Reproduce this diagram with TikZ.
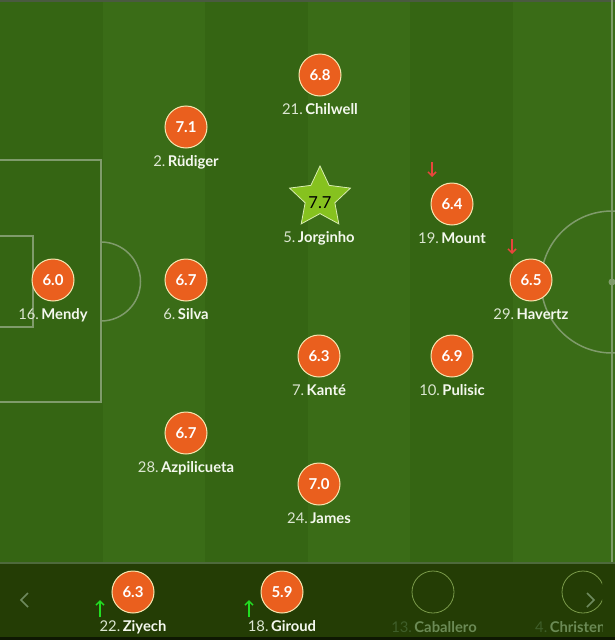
\documentclass[tikz,border=0pt]{standalone}
\usepackage{fontspec}
\setmainfont{Lato}
\usetikzlibrary{arrows.meta,shapes.geometric}
\definecolor{stripeA}{HTML}{356513}
\definecolor{stripeB}{HTML}{3A6C17}
\definecolor{topline}{HTML}{4A5A40}
\definecolor{pline}{HTML}{7F9B6B}
\definecolor{benchbg}{HTML}{243D05}
\definecolor{benchline}{HTML}{4E6A3C}
\definecolor{rfill}{HTML}{EA5F1E}
\definecolor{rborder}{HTML}{F6E7B0}
\definecolor{starfill}{HTML}{86C21F}
\definecolor{starborder}{HTML}{D8ECB0}
\definecolor{numcol}{HTML}{DCE6D2}
\definecolor{namecol}{HTML}{F4F8EE}
\definecolor{downred}{HTML}{E8453C}
\definecolor{upgreen}{HTML}{22DD22}
\definecolor{dimnum}{HTML}{3F5E2A}
\definecolor{dimname}{HTML}{6B8A55}
\definecolor{dimring}{HTML}{7A9A4A}
\definecolor{chev}{HTML}{6E8A5E}
\tikzset{
  rating/.style={circle, fill=rfill, draw=rborder, line width=1pt, minimum size=42pt, inner sep=0pt,
    text=white, font=\fontsize{15}{17}\selectfont\bfseries},
  emptyring/.style={circle, draw=dimring, line width=0.8pt, minimum size=42pt, inner sep=0pt},
  lbl/.style={anchor=base, inner sep=0pt, font=\fontsize{14.8}{17}\selectfont},
  pitchline/.style={draw=pline, line width=1.5pt},
  downarr/.style={draw=downred, line width=1.5pt, -{Straight Barb[length=4pt,width=8pt]}},
  uparr/.style={draw=upgreen, line width=1.5pt, -{Straight Barb[length=4pt,width=8pt]}},
  chevron/.style={draw=chev, line width=1.5pt}
}
\newcommand\plyr[6]{%
  \node[rating] (#1) at (#2,#3) {#4};
  \node[lbl] (#1-l) at (#2,#3+39) {\textcolor{numcol}{#5.}\hspace{2.5pt}\textcolor{namecol}{\bfseries #6}};
}
\begin{document}
\begin{tikzpicture}[x=1pt,y=-1pt]
\useasboundingbox (0,0) rectangle (615,640);
% stripes
\foreach \i in {0,2,4} \fill[stripeA] (\i*102.5,0) rectangle (\i*102.5+102.5,563);
\foreach \i in {1,3,5} \fill[stripeB] (\i*102.5,0) rectangle (\i*102.5+102.5,563);
\fill[topline] (0,0) rectangle (615,2);
% pitch lines
\draw[pitchline] (-5,160) -- (101,160) -- (101,402) -- (-5,402);
\draw[pitchline] (-5,236) -- (33,236) -- (33,327) -- (-5,327);
\draw[pitchline] (101,242) arc[start angle=-90, end angle=90, radius=39.5];
\draw[pitchline] (612,0) -- (612,563);
\draw[pitchline] (612,282) circle[radius=71];
\fill[pline] (612,282) circle[radius=3.5];
% bench bar
\fill[benchbg] (0,563) rectangle (615,640);
\fill[benchline] (0,562) rectangle (615,564);
\fill[black!60!benchbg] (0,637) rectangle (615,640);
% players
\plyr{chilwell}{320}{75}{6.8}{21}{Chilwell}
\plyr{rudiger}{186}{127}{7.1}{2}{Rüdiger}
\plyr{mount}{452}{204}{6.4}{19}{Mount}
\plyr{mendy}{53}{280}{6.0}{16}{Mendy}
\plyr{silva}{186}{280}{6.7}{6}{Silva}
\plyr{havertz}{531}{280}{6.5}{29}{Havertz}
\plyr{kante}{319}{356}{6.3}{7}{Kanté}
\plyr{pulisic}{452}{356}{6.9}{10}{Pulisic}
\plyr{azpi}{186}{433}{6.7}{28}{Azpilicueta}
\plyr{james}{319}{484}{7.0}{24}{James}
% star
\node[star, star points=5, star point ratio=2.05, fill=starfill, draw=starborder, line width=0.8pt,
  minimum size=64pt, inner sep=0pt] (jorginho) at (320,198) {};
\node[font=\fontsize{16.5}{18}\selectfont, text=black] (jorginho-r) at (320,203) {7.7};
\node[lbl] (jorginho-l) at (319,242) {\textcolor{numcol}{5.}\hspace{2.5pt}\textcolor{namecol}{\bfseries Jorginho}};
% sub arrows
\coordinate (mount-a0) at (432,162); \coordinate (mount-a1) at (432,177);
\draw[downarr] (mount-a0) -- (mount-a1);
\coordinate (hav-a0) at (512,239); \coordinate (hav-a1) at (512,254);
\draw[downarr] (hav-a0) -- (hav-a1);
% bench
\plyr{ziyech}{133}{592}{6.3}{22}{Ziyech}
\plyr{giroud}{282}{592}{5.9}{18}{Giroud}
\node[emptyring] (caballero) at (433,592) {};
\node[lbl] (caballero-l) at (434,632) {\textcolor{dimnum}{13.}\hspace{2.5pt}\textcolor{dimname}{\bfseries Caballero}};
\begin{scope}
\clip (520,564) rectangle (602,637);
\node[emptyring] (christensen) at (583,592) {};
\node[lbl, anchor=base west] (christensen-l) at (535,632) {\textcolor{dimnum}{4.}\hspace{2.5pt}\textcolor{dimname}{\bfseries Christensen}};
\end{scope}
\coordinate (zi-a0) at (100,617); \coordinate (zi-a1) at (100,600);
\draw[uparr] (zi-a0) -- (zi-a1);
\coordinate (gi-a0) at (249,617); \coordinate (gi-a1) at (249,600);
\draw[uparr] (gi-a0) -- (gi-a1);
% chevrons
\coordinate (cl0) at (28,593); \coordinate (cl1) at (21,600); \coordinate (cl2) at (28,607);
\draw[chevron] (cl0) -- (cl1) -- (cl2);
\coordinate (cr0) at (587,593); \coordinate (cr1) at (594,600); \coordinate (cr2) at (587,607);
\draw[chevron] (cr0) -- (cr1) -- (cr2);
\end{tikzpicture}
\end{document}
